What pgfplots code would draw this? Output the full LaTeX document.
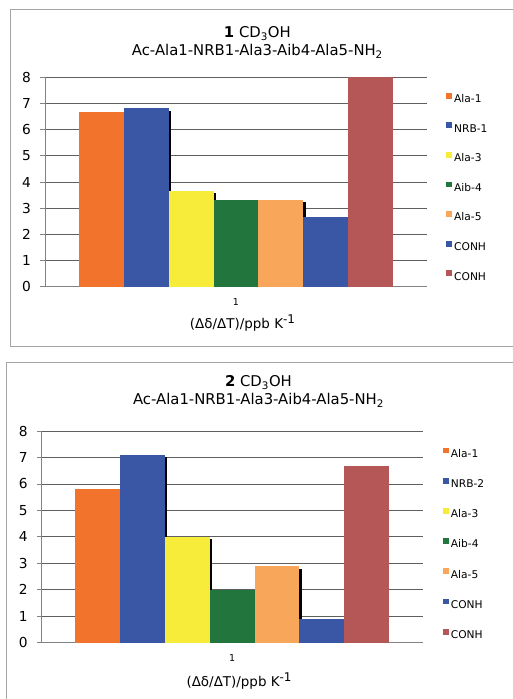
\documentclass[border=0pt]{standalone}
\usepackage{fontspec}
\setmainfont{DejaVu Sans}
\usepackage{pgfplots}
\pgfplotsset{compat=1.18}
\definecolor{cA}{RGB}{241,115,44}
\definecolor{cB}{RGB}{58,87,166}
\definecolor{cY}{RGB}{248,236,58}
\definecolor{cG}{RGB}{34,117,60}
\definecolor{cL}{RGB}{247,166,90}
\definecolor{cR}{RGB}{182,87,87}
\definecolor{gridc}{RGB}{95,95,95}
\definecolor{axc}{RGB}{130,130,130}
\definecolor{framec}{RGB}{165,165,165}
\pgfplotsset{
  myax/.style={
    scale only axis,
    xmin=0.5, xmax=1.5, ymin=0, ymax=8,
    ytick={0,1,...,8},
    xtick={1}, xticklabels={1},
    extra x ticks={0.5,1.5}, extra x tick labels={},
    extra x tick style={major tick length=4.5bp, tick style={draw=axc, line width=0.8bp}},
    major x tick style={draw=none},
    axis x line*=bottom, axis y line*=left,
    axis line style={draw=axc, line width=0.9bp},
    tick align=outside,
    major tick length=4.5bp,
    ytick style={draw=axc, line width=0.8bp},
    ymajorgrids,
    major grid style={draw=gridc, line width=0.8bp},
    /pgf/number format/assume math mode=true,
    yticklabel style={font=\fontsize{13.8}{16}\selectfont, xshift=-6bp},
    xticklabel style={font=\fontsize{9.5}{11}\selectfont, yshift=-3.5bp},
    title style={align=center, anchor=center, font=\fontsize{14.9}{17.9}\selectfont},
    xlabel style={anchor=center, font=\fontsize{13.5}{16}\selectfont},
    clip=false,
    legend cell align=left,
    legend image code/.code={\fill[##1, draw=none] (0bp,1bp) rectangle (5.7bp,6.7bp);},
    legend style={draw=none, fill=none, inner sep=0pt, anchor=north west,
      font=\fontsize{10.7}{12}\selectfont,
      nodes={inner sep=0pt, text height=8bp, text depth=2bp},
      /tikz/every odd column/.append style={column sep=2.3bp}},
  },
  bb/.style={ybar, bar width=#1, draw=none},
}
\begin{document}
\begin{tikzpicture}
\useasboundingbox (0bp,0bp) rectangle (513bp,699bp);
% frames
\draw[framec, line width=1bp] (514bp,689bp) -- (10bp,689bp) -- (10bp,352.3bp) -- (514bp,352.3bp);
\draw[framec, line width=1bp] (514bp,336.3bp) -- (6.7bp,336.3bp) -- (6.7bp,-1bp);

% ---------- Panel 1 ----------
\begin{axis}[myax,
  at={(45bp,412.3bp)}, anchor=south west, width=382bp, height=209.4bp,
  title={\textbf{1} CD\textsubscript{3}OH\\Ac-Ala1-NRB1-Ala3-Aib4-Ala5-NH\textsubscript{2}},
  title style={at={(axis description cs:0.556,1.138)}},
  xlabel={(Δδ/ΔT)/ppb K\raisebox{5bp}{\fontsize{12}{14}\selectfont -1}},
  xlabel style={at={(axis description cs:0.517,-0.1734)}},
  legend style={at={(axis description cs:1.0497,0.9265)}, row sep=17.9bp},
]
% shadows
\addplot[bb=44.8bp, bar shift=-87.1bp, fill=black, forget plot] coordinates {(1,6.72)};
\addplot[bb=44.8bp, bar shift=-42.3bp, fill=black, forget plot] coordinates {(1,3.57)};
\addplot[bb=44.8bp, bar shift=47.3bp, fill=black, forget plot] coordinates {(1,3.23)};
% bars
\addplot[bb=44.8bp, bar shift=-134.4bp, fill=cA] coordinates {(1,6.66)};
\addlegendentry{Ala-1}
\addplot[bb=44.8bp, bar shift=-89.6bp, fill=cB] coordinates {(1,6.82)};
\addlegendentry{NRB-1}
\addplot[bb=44.8bp, bar shift=-44.8bp, fill=cY] coordinates {(1,3.67)};
\addlegendentry{Ala-3}
\addplot[bb=44.8bp, bar shift=0bp, fill=cG] coordinates {(1,3.33)};
\addlegendentry{Aib-4}
\addplot[bb=44.8bp, bar shift=44.8bp, fill=cL] coordinates {(1,3.33)};
\addlegendentry{Ala-5}
\addplot[bb=44.8bp, bar shift=89.6bp, fill=cB] coordinates {(1,2.67)};
\addlegendentry{CONH}
\addplot[bb=44.8bp, bar shift=134.4bp, fill=cR] coordinates {(1,8)};
\addlegendentry{CONH}
\end{axis}

% ---------- Panel 2 ----------
\begin{axis}[myax,
  at={(41.7bp,56.3bp)}, anchor=south west, width=381bp, height=211.7bp,
  title={\textbf{2} CD\textsubscript{3}OH\\Ac-Ala1-NRB1-Ala3-Aib4-Ala5-NH\textsubscript{2}},
  title style={at={(axis description cs:0.569,1.159)}},
  xlabel={(Δδ/ΔT)/ppb K\raisebox{5bp}{\fontsize{12}{14}\selectfont -1}},
  xlabel style={at={(axis description cs:0.518,-0.18)}},
  legend style={at={(axis description cs:1.0525,0.9225)}, row sep=18.5bp},
]
% shadows
\addplot[bb=44.86bp, bar shift=-87.2bp, fill=black, forget plot] coordinates {(1,7.0)};
\addplot[bb=44.86bp, bar shift=-42.4bp, fill=black, forget plot] coordinates {(1,3.9)};
\addplot[bb=44.86bp, bar shift=47.4bp, fill=black, forget plot] coordinates {(1,2.8)};
% bars
\addplot[bb=44.86bp, bar shift=-134.6bp, fill=cA] coordinates {(1,5.8)};
\addlegendentry{Ala-1}
\addplot[bb=44.86bp, bar shift=-89.7bp, fill=cB] coordinates {(1,7.1)};
\addlegendentry{NRB-2}
\addplot[bb=44.86bp, bar shift=-44.86bp, fill=cY] coordinates {(1,4.0)};
\addlegendentry{Ala-3}
\addplot[bb=44.86bp, bar shift=0bp, fill=cG] coordinates {(1,2.0)};
\addlegendentry{Aib-4}
\addplot[bb=44.86bp, bar shift=44.86bp, fill=cL] coordinates {(1,2.9)};
\addlegendentry{Ala-5}
\addplot[bb=44.86bp, bar shift=89.7bp, fill=cB] coordinates {(1,0.9)};
\addlegendentry{CONH}
\addplot[bb=44.86bp, bar shift=134.6bp, fill=cR] coordinates {(1,6.67)};
\addlegendentry{CONH}
\end{axis}
\end{tikzpicture}
\end{document}
